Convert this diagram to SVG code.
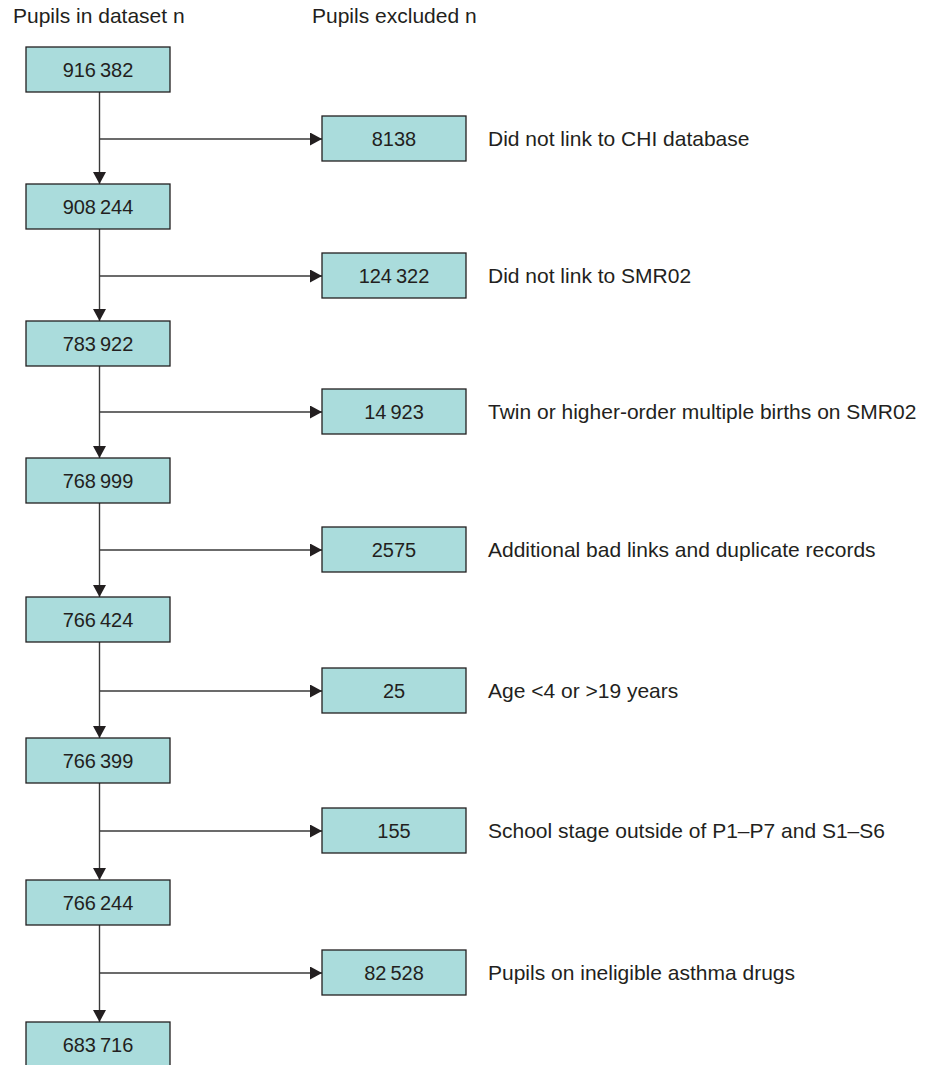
<svg xmlns="http://www.w3.org/2000/svg" width="936" height="1065" viewBox="0 0 936 1065">
<defs>
<style>
.bx{fill:#aadcdc;stroke:#231f20;stroke-width:1.3}
.num{font-family:"Liberation Sans",Arial,sans-serif;font-size:20px;fill:#231f20;text-anchor:middle}
.lbl{font-family:"Liberation Sans",Arial,sans-serif;font-size:21px;fill:#231f20}
.hd{font-family:"Liberation Sans",Arial,sans-serif;font-size:21px;fill:#231f20}
.cn{fill:none;stroke:#3a3a3a;stroke-width:1.4;marker-end:url(#ah)}
</style>
<marker id="ah" markerUnits="userSpaceOnUse" markerWidth="12" markerHeight="13" refX="12" refY="6.5" orient="auto" viewBox="0 0 12 13">
<path d="M0,0 L12,6.5 L0,13 z" fill="#231f20"/>
</marker>
</defs>
<rect width="936" height="1065" fill="#ffffff"/>
<g id="headers">
<text class="hd" x="13" y="23">Pupils in dataset n</text>
<text class="hd" x="312" y="23">Pupils excluded n</text>
</g>
<g id="connectors">
<line class="cn" x1="99.5" y1="92" x2="99.5" y2="184"/>
<line class="cn" x1="99.5" y1="139" x2="322" y2="139"/>
<line class="cn" x1="99.5" y1="229" x2="99.5" y2="321"/>
<line class="cn" x1="99.5" y1="276" x2="322" y2="276"/>
<line class="cn" x1="99.5" y1="366" x2="99.5" y2="458"/>
<line class="cn" x1="99.5" y1="412" x2="322" y2="412"/>
<line class="cn" x1="99.5" y1="503" x2="99.5" y2="597"/>
<line class="cn" x1="99.5" y1="550" x2="322" y2="550"/>
<line class="cn" x1="99.5" y1="642" x2="99.5" y2="738"/>
<line class="cn" x1="99.5" y1="691" x2="322" y2="691"/>
<line class="cn" x1="99.5" y1="783" x2="99.5" y2="880"/>
<line class="cn" x1="99.5" y1="831" x2="322" y2="831"/>
<line class="cn" x1="99.5" y1="925" x2="99.5" y2="1022"/>
<line class="cn" x1="99.5" y1="973" x2="322" y2="973"/>
</g>
<g id="n1"><rect class="bx" x="26" y="47" width="144" height="45"/><text class="num" x="98" y="77">916&#8201;382</text></g>
<g id="n2"><rect class="bx" x="26" y="184" width="144" height="45"/><text class="num" x="98" y="214">908&#8201;244</text></g>
<g id="n3"><rect class="bx" x="26" y="321" width="144" height="45"/><text class="num" x="98" y="351">783&#8201;922</text></g>
<g id="n4"><rect class="bx" x="26" y="458" width="144" height="45"/><text class="num" x="98" y="488">768&#8201;999</text></g>
<g id="n5"><rect class="bx" x="26" y="597" width="144" height="45"/><text class="num" x="98" y="627">766&#8201;424</text></g>
<g id="n6"><rect class="bx" x="26" y="738" width="144" height="45"/><text class="num" x="98" y="768">766&#8201;399</text></g>
<g id="n7"><rect class="bx" x="26" y="880" width="144" height="45"/><text class="num" x="98" y="910">766&#8201;244</text></g>
<g id="n8"><rect class="bx" x="26" y="1022" width="144" height="45"/><text class="num" x="98" y="1052">683&#8201;716</text></g>
<g id="e1"><rect class="bx" x="322" y="116" width="144" height="45"/><text class="num" x="394" y="146">8138</text><text class="lbl" x="488" y="146">Did not link to CHI database</text></g>
<g id="e2"><rect class="bx" x="322" y="253" width="144" height="45"/><text class="num" x="394" y="283">124&#8201;322</text><text class="lbl" x="488" y="283">Did not link to SMR02</text></g>
<g id="e3"><rect class="bx" x="322" y="389" width="144" height="45"/><text class="num" x="394" y="419">14&#8201;923</text><text class="lbl" x="488" y="419">Twin or higher-order multiple births on SMR02</text></g>
<g id="e4"><rect class="bx" x="322" y="527" width="144" height="45"/><text class="num" x="394" y="557">2575</text><text class="lbl" x="488" y="557">Additional bad links and duplicate records</text></g>
<g id="e5"><rect class="bx" x="322" y="668" width="144" height="45"/><text class="num" x="394" y="698">25</text><text class="lbl" x="488" y="698">Age &lt;4 or &gt;19 years</text></g>
<g id="e6"><rect class="bx" x="322" y="808" width="144" height="45"/><text class="num" x="394" y="838">155</text><text class="lbl" x="488" y="838">School stage outside of P1–P7 and S1–S6</text></g>
<g id="e7"><rect class="bx" x="322" y="950" width="144" height="45"/><text class="num" x="394" y="980">82&#8201;528</text><text class="lbl" x="488" y="980">Pupils on ineligible asthma drugs</text></g>
</svg>
